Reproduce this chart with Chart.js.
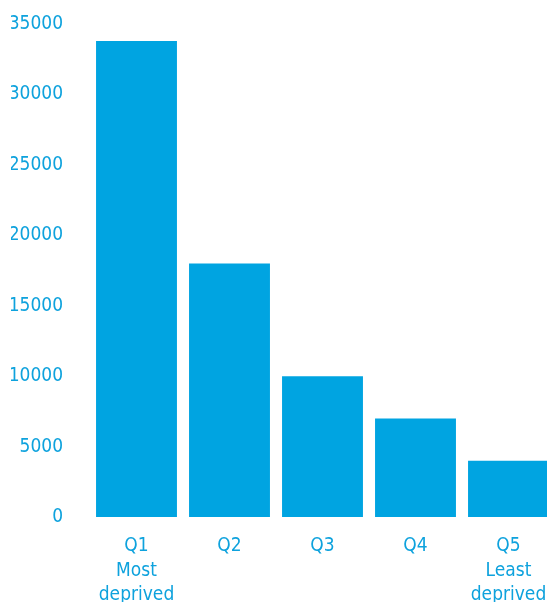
<!DOCTYPE html>
<html lang="en">
<head>
  <meta charset="UTF-8">
  <title>Deprivation quintiles</title>
  <script src="https://cdn.jsdelivr.net/npm/chart.js@4/dist/chart.umd.min.js"></script>
  <style>
    html, body {
      margin: 0;
      padding: 0;
      background: #fff;
      overflow: hidden;
    }
    #chart {
      display: block;
    }
  </style>
</head>
<body>
  <canvas id="chart" width="556" height="606"></canvas>
  <script>
    // data
    const quintiles = [
      ['Q1', 'Most', 'deprived'],
      'Q2',
      'Q3',
      'Q4',
      ['Q5', 'Least', 'deprived']
    ];
    const counts = [33800, 18000, 10000, 7000, 4000];
    const yTicks = [0, 5000, 10000, 15000, 20000, 25000, 30000, 35000];

    const blue = '#00a4e1';
    const textBlue = '#0ea2dd';
    const font = { family: "'DejaVu Sans Condensed', 'Liberation Sans', sans-serif", size: 19, lineHeight: '24.5px' };

    const ctx = document.getElementById('chart').getContext('2d');
    new Chart(ctx, {
      type: 'bar',
      data: {
        labels: quintiles,
        datasets: [{
          data: counts,
          backgroundColor: blue,
          borderWidth: 0,
          barPercentage: 0.87,
          categoryPercentage: 1
        }]
      },
      options: {
        responsive: false,
        animation: false,
        layout: { padding: { left: 11, right: 1, top: 24, bottom: 0 } },
        plugins: {
          legend: { display: false },
          tooltip: { enabled: false }
        },
        scales: {
          x: {
            grid: { display: false, drawTicks: false },
            border: { display: false },
            ticks: { color: textBlue, font, padding: 17, maxRotation: 0, autoSkip: false },
            afterFit: axis => {
              axis.height = 89;
              axis.paddingLeft = 0;
              axis.paddingRight = 0;
            }
          },
          y: {
            min: yTicks[0],
            max: yTicks[yTicks.length - 1],
            afterBuildTicks: axis => { axis.ticks = yTicks.map(v => ({ value: v })); },
            grid: { display: false, drawTicks: false },
            border: { display: false },
            ticks: { color: textBlue, font, padding: 27, callback: v => String(v) },
            afterFit: axis => {
              axis.width = 79;
              axis.paddingTop = 0;
              axis.paddingBottom = 0;
            }
          }
        }
      }
    });
  </script>
</body>
</html>
